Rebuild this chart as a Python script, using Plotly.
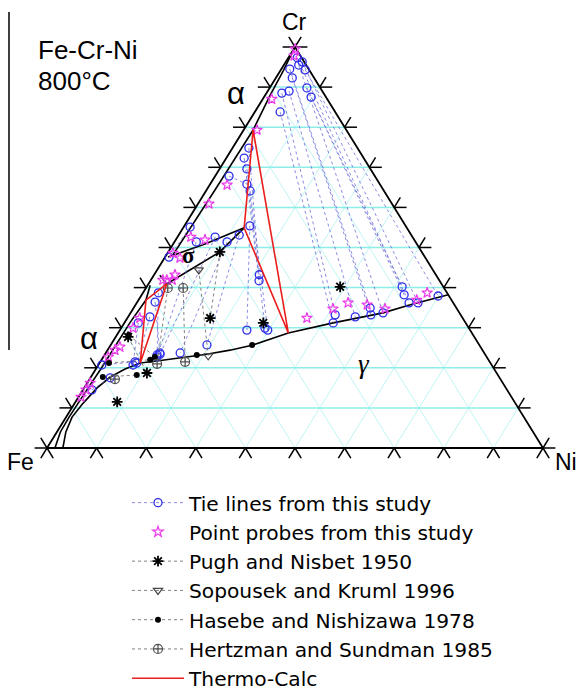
import plotly.graph_objects as go

# ---------------- data (at.% Cr, at.% Ni; Fe = balance) ----------------
# Thermo-Calc phase boundaries
gamma_bdry_cr = [0.0, 4.0, 7.7, 11.2, 15.0, 17.7, 19.7, 21.2, 21.7, 22.5, 23.4, 24.4, 25.7, 28.7, 31.2, 33.7, 35.7, 38.2]
gamma_bdry_ni = [3.2, 1.8, 1.2, 1.7, 2.6, 3.9, 5.9, 8.2, 11.3, 15.6, 20.5, 24.7, 28.7, 34.3, 42.1, 50.9, 55.4, 61.8]
alpha_fe_cr = [0.0, 4.0, 7.7, 11.2, 15.0, 19.5, 25.2, 31.4, 36.9, 40.6]
alpha_fe_ni = [1.6, 0.7, 0.6, 0.65, 0.8, 1.0, 1.1, 1.1, 1.5, 0.5]
alpha_cr_cr = [100.0, 94.0, 88.0, 79.3, 64.4, 52.6, 47.9]
alpha_cr_ni = [0.0, 0.6, 1.0, 1.9, 1.7, 1.5, 1.3]
sigma_up_cr = [54.9, 50.9, 47.6]
sigma_up_ni = [12.3, 6.4, 0.6]
sigma_lo_cr = [54.9, 48.9, 44.4, 40.9, 43.1]
sigma_lo_ni = [12.3, 10.4, 6.6, 3.7, 1.2]
# tie triangles (alpha, sigma, gamma, alpha)
tri_up_cr = [79.3, 54.9, 28.7, 79.3]
tri_up_ni = [1.9, 12.3, 34.3, 1.9]
tri_lo_cr = [36.9, 40.9, 21.2, 36.9]
tri_lo_ni = [1.5, 3.7, 8.2, 1.5]

# tie lines from this study: end 1 -> end 2
study_cr1 = [83.8, 88.5, 89.0, 92.3, 94.5, 95.5, 89.8, 87.5, 97.3, 96.3, 94.3,
             74.8, 72.3, 69.6, 64.1, 55.4, 53.1, 51.4, 52.6, 51.4, 67.8, 55.1,
             38.7, 36.4, 32.7, 31.2, 20.7, 14.5]
study_ni1 = [5.1, 3.1, 4.3, 3.3, 1.7, 3.0, 7.5, 9.5, 1.8, 3.3, 4.9,
             3.3, 3.6, 5.5, 8.9, 13.2, 12.2, 10.6, 7.6, 4.4, 2.8, 1.3,
             3.1, 3.6, 4.4, 2.8, 0.7, 1.8]
study_cr2 = [31.2, 33.2, 32.7, 33.2, 34.9, 33.7, 40.2, 38.2, 36.2, 36.2, 37.9,
             43.2, 41.7, 29.9, 29.4, 29.4, 25.7, 23.7, 23.4, 22.7, 65.8, 47.6,
             23.2, 23.7, 21.2, 20.7, 21.5, 17.5]
study_ni2 = [42.1, 41.5, 45.8, 48.7, 47.7, 50.9, 51.5, 52.9, 54.9, 56.7, 59.9,
             21.2, 21.9, 29.0, 29.8, 25.6, 19.4, 15.0, 11.1, 10.8, 7.4, 0.8,
             10.6, 10.9, 7.5, 7.0, 7.0, 4.0]

# point probes from this study
probe_cr = [99.5, 97.8, 87.0, 79.3, 65.6, 60.9, 52.6, 51.9, 48.6, 47.4, 41.9, 41.9, 43.2, 41.9,
            32.4, 29.9, 25.2, 24.4, 22.7, 16.2, 14.5, 12.7,
            32.4, 34.7, 36.2, 35.7, 34.7, 36.9, 38.7]
probe_ni = [0.3, 0.9, 1.8, 2.7, 3.5, 2.2, 2.7, 5.9, 1.1, 3.1, 3.2, 4.3, 4.2, 2.4,
            2.5, 2.4, 2.1, 1.5, 1.0, 0.6, 0.6, 0.5,
            36.2, 40.3, 42.6, 46.7, 50.8, 56.1, 57.3]

# literature data (None separates tie lines / isolated points)
pugh_cr = [48.9, 32.4, None, 27.7, 18.7, None, 11.5, None, 31.2, None, 40.2]
pugh_ni = [10.4, 16.7, None, 2.5, 10.8, None, 8.4, None, 28.0, None, 39.0]
sopousek_cr = [44.4, 23.0]
sopousek_ni = [8.4, 21.0]
hasebe_cr = [21.2, 22.0, None, 17.7, 18.2, None, 28.2, 22.7, None, 23.2, None, 25.7]
hasebe_ni = [1.9, 9.8, None, 2.4, 9.0, None, 2.4, 10.4, None, 18.6, None, 28.5]
hertzman_cr = [39.9, 21.5, None, 39.9, 21.0, None, 17.2]
hertzman_ni = [7.5, 17.1, None, 4.4, 11.7, None, 5.1]

tick_values = [k * 10 for k in range(11)]
corner_labels = ["Cr", "Fe", "Ni"]


# ---------------- helpers ----------------
def tx(cr, ni):
    if cr is None:
        return None
    return ni / 100.0 + cr / 200.0


def ty(cr):
    if cr is None:
        return None
    return cr / 100.0


def xy(crs, nis):
    return [tx(c, n) for c, n in zip(crs, nis)], [ty(c) for c in crs]


def segs(c1, n1, c2, n2):
    xs, ys = [], []
    for a, b, c, d in zip(c1, n1, c2, n2):
        xs += [tx(a, b), tx(c, d), None]
        ys += [ty(a), ty(c), None]
    return xs, ys


fig = go.Figure()

# grid
hx, hy, sx, sy = [], [], [], []
for v in tick_values[1:-1]:
    hx += [tx(v, 0), tx(v, 100 - v), None]
    hy += [ty(v), ty(v), None]
    sx += [tx(0, v), tx(100 - v, v), None]
    sy += [ty(0), ty(100 - v), None]
    sx += [tx(0, 100 - v), tx(100 - v, 0), None]
    sy += [ty(0), ty(100 - v), None]
fig.add_trace(go.Scatter(x=sx, y=sy, mode="lines", line=dict(color="rgb(190,246,243)", width=1),
                         showlegend=False, hoverinfo="skip"))
fig.add_trace(go.Scatter(x=hx, y=hy, mode="lines", line=dict(color="rgb(140,238,231)", width=1.5),
                         showlegend=False, hoverinfo="skip"))

# frame and ticks
fx, fy = xy([0, 0, 100, 0], [0, 100, 0, 0])
fig.add_trace(go.Scatter(x=fx, y=fy, mode="lines", line=dict(color="black", width=1.8),
                         showlegend=False, hoverinfo="skip"))
d = 2.5
kx, ky = [], []
for v in tick_values:
    for (a, b), (c, e) in [((0, v), (-d, v)), ((0, v), (-d, v + d)),
                           ((v, 0), (v, -d)), ((v, 0), (v + d, -d)),
                           ((v, 100 - v), (v, 100 - v + d)), ((v, 100 - v), (v + d, 100 - v))]:
        kx += [tx(a, b), tx(c, e), None]
        ky += [ty(a), ty(c), None]
fig.add_trace(go.Scatter(x=kx, y=ky, mode="lines", line=dict(color="black", width=1.5),
                         showlegend=False, hoverinfo="skip", cliponaxis=False))

# Thermo-Calc black boundaries
for crs, nis in [(gamma_bdry_cr, gamma_bdry_ni), (alpha_fe_cr, alpha_fe_ni), (alpha_cr_cr, alpha_cr_ni),
                 (sigma_up_cr, sigma_up_ni), (sigma_lo_cr, sigma_lo_ni)]:
    bx, by = xy(crs, nis)
    fig.add_trace(go.Scatter(x=bx, y=by, mode="lines", line=dict(color="black", width=1.6),
                             showlegend=False, hoverinfo="skip"))

# legend traces
lx, ly = segs(study_cr1, study_ni1, study_cr2, study_ni2)
fig.add_trace(go.Scatter(x=lx, y=ly, mode="lines+markers", name="Tie lines from this study",
                         line=dict(color="rgba(100,100,215,0.75)", width=1, dash="dot"),
                         marker=dict(symbol="circle-open", size=8, color="rgb(45,45,235)", line=dict(width=1.3))))
px_, py_ = xy(probe_cr, probe_ni)
fig.add_trace(go.Scatter(x=px_, y=py_, mode="markers", name="Point probes from this study",
                         marker=dict(symbol="star-open", size=8, color="rgb(235,60,235)", line=dict(width=1.2))))
gx, gy = xy(pugh_cr, pugh_ni)
fig.add_trace(go.Scatter(x=gx, y=gy, mode="lines+markers", name="Pugh and Nisbet 1950",
                         line=dict(color="rgb(130,130,130)", width=1, dash="dot"),
                         marker=dict(symbol="asterisk-open", size=9, color="black", line=dict(width=1.8))))
ox, oy = xy(sopousek_cr, sopousek_ni)
fig.add_trace(go.Scatter(x=ox, y=oy, mode="lines+markers", name="Sopousek and Kruml 1996",
                         line=dict(color="rgb(130,130,130)", width=1, dash="dot"),
                         marker=dict(symbol="triangle-down-open", size=8, color="rgb(70,70,70)", line=dict(width=1.2))))
hx2, hy2 = xy(hasebe_cr, hasebe_ni)
fig.add_trace(go.Scatter(x=hx2, y=hy2, mode="lines+markers", name="Hasebe and Nishizawa 1978",
                         line=dict(color="rgb(130,130,130)", width=1, dash="dot"),
                         marker=dict(symbol="circle", size=6, color="black")))
zx, zy = xy(hertzman_cr, hertzman_ni)
fig.add_trace(go.Scatter(x=zx, y=zy, mode="lines+markers", name="Hertzman and Sundman 1985",
                         line=dict(color="rgb(130,130,130)", width=1, dash="dot"),
                         marker=dict(symbol="circle-cross-open", size=9, color="rgb(80,80,80)", line=dict(width=1.2))))
rx, ry = xy(tri_up_cr + [None] + tri_lo_cr, tri_up_ni + [None] + tri_lo_ni)
fig.add_trace(go.Scatter(x=rx, y=ry, mode="lines", name="Thermo-Calc",
                         line=dict(color="rgb(235,30,30)", width=1.6)))

# figure is a little taller than the 692 px window; the overflow is hidden
W, H = 579, 714


def P(x, y):
    return x / W, 1 - y / H


anns = []
for text, (x, y), size, fam, xa in [
    ("Fe-Cr-Ni", (36, 50), 26, "Liberation Sans, Arial", "left"),
    ("800°C", (36, 81), 26, "Liberation Sans, Arial", "left"),
    (corner_labels[0], (294, 22), 23, "Liberation Sans, Arial", "center"),
    (corner_labels[1], (20, 462), 23, "Liberation Sans, Arial", "center"),
    (corner_labels[2], (566, 462), 23, "Liberation Sans, Arial", "center"),
    ("α", (236, 94), 31, "Liberation Sans, Arial", "center"),
    ("α", (89, 338), 31, "Liberation Sans, Arial", "center"),
    ("<b>σ</b>", (188, 255), 23, "Liberation Serif, Times New Roman", "center"),
    ("<i>γ</i>", (364, 364), 27, "Liberation Serif, Times New Roman", "center"),
]:
    ax, ay = P(x, y)
    anns.append(dict(text=text, x=ax, y=ay, xref="paper", yref="paper", xanchor=xa, yanchor="middle",
                     showarrow=False, font=dict(size=size, family=fam, color="black")))

fig.update_layout(
    width=W, height=H, margin=dict(l=0, r=0, t=0, b=0, autoexpand=False),
    paper_bgcolor="white", plot_bgcolor="white",
    xaxis=dict(range=[-47 / 496, 1 + 36 / 496], visible=False, fixedrange=True),
    yaxis=dict(range=[-(H - 448) / 401, 448 / 401], visible=False, fixedrange=True),
    annotations=anns,
    shapes=[dict(type="line", xref="paper", yref="paper", x0=9 / W, x1=9 / W, y0=1 - 12 / H, y1=1 - 350 / H,
                 line=dict(color="black", width=1.5))],
    legend=dict(x=127 / W, y=1 - 483 / H, xanchor="left", yanchor="top", bgcolor="rgba(0,0,0,0)",
                itemwidth=52,
                font=dict(family="DejaVu Sans", size=20.2, color="black"), borderwidth=0),
    showlegend=True,
)

fig.write_html("out.html", config={"displayModeBar": False},
               post_script="document.body.style.margin='0';document.body.style.overflow='hidden';"
                           "document.documentElement.style.overflow='hidden';")
